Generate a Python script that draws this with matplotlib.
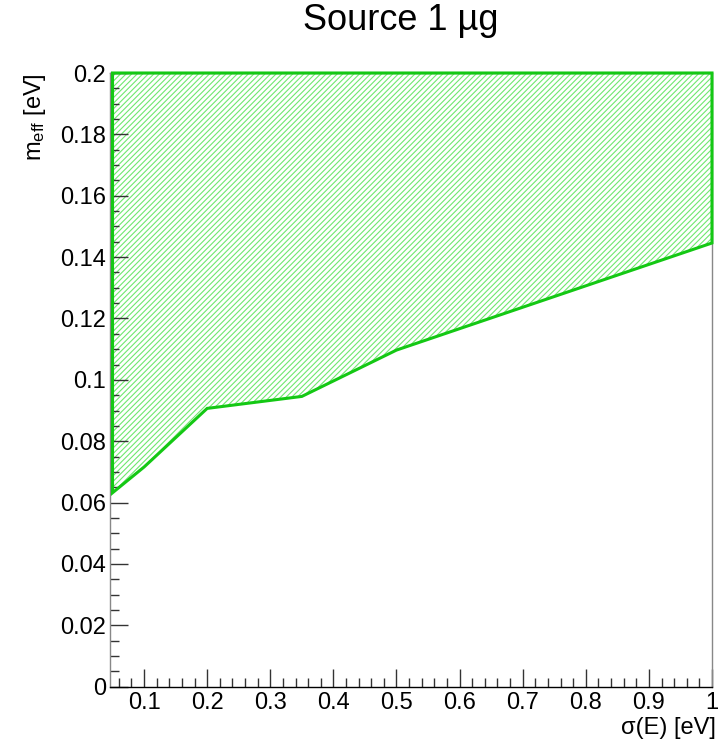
import matplotlib
matplotlib.use("Agg")
import matplotlib.pyplot as plt
from matplotlib.ticker import MultipleLocator
from matplotlib.patches import Polygon

plt.rcParams['font.family'] = ['Liberation Sans', 'DejaVu Sans']
plt.rcParams['hatch.linewidth'] = 0.8

# exclusion contour
sigma = [0.05, 0.1, 0.2, 0.35, 0.5, 1.0]
m_eff = [0.0632, 0.0716, 0.0907, 0.0946, 0.1097, 0.1446]
m_top = 0.2

x_lo, x_hi = 0.046, 1.0
y_lo, y_hi = 0.0, 0.2

green = '#14c814'
hatch_green = '#6fe86f'

fig = plt.figure(figsize=(7.27, 7.44), dpi=100)
ax = fig.add_axes([110/727, 1-686.7/744, (712-110)/727, (686.7-73)/744])

verts = list(zip(sigma, m_eff)) + [(sigma[-1], m_top), (sigma[0], m_top)]
ax.add_patch(Polygon(verts, closed=True, facecolor='none', edgecolor=hatch_green,
                     linewidth=0, hatch='//////'))
ax.add_patch(Polygon(verts, closed=True, fill=False, edgecolor=green,
                     linewidth=2.2, joinstyle='miter', clip_on=False, zorder=3))

ax.set_xlim(x_lo, x_hi)
ax.set_ylim(y_lo, y_hi)

ax.xaxis.set_major_locator(MultipleLocator(0.1))
ax.xaxis.set_minor_locator(MultipleLocator(0.02))
ax.yaxis.set_major_locator(MultipleLocator(0.02))
ax.yaxis.set_minor_locator(MultipleLocator(0.005))

ax.tick_params(which='both', direction='in', top=False, right=False,
               labelsize=17, colors='#333333', labelcolor='black')
ax.tick_params(axis='x', which='major', length=13, width=1, pad=4)
ax.tick_params(axis='x', which='minor', length=6.5, width=1)
ax.tick_params(axis='y', which='major', length=13, width=1, pad=3)
ax.tick_params(axis='y', which='minor', length=6.5, width=1)

ax.xaxis.set_major_formatter(plt.FuncFormatter(lambda v, p: ('%g' % round(v, 3))))
ax.yaxis.set_major_formatter(plt.FuncFormatter(lambda v, p: ('%g' % round(v, 3))))

for s in ['left', 'right', 'top']:
    ax.spines[s].set_color('#888888')
    ax.spines[s].set_linewidth(1)
ax.spines['bottom'].set_color('black')
ax.spines['bottom'].set_linewidth(1)

fig.text(401/727, 1-21/744, 'Source 1 \u00b5g', ha='center', va='center', fontsize=26)
fig.text(35/727, 1-73/744, r'$\mathregular{m_{eff}}$ [eV]', rotation=90,
         ha='center', va='top', fontsize=17)
fig.text(716/727, 1-728/744, '\u03c3(E) [eV]', ha='right', va='center', fontsize=17)

fig.savefig('out.png', dpi=100)
